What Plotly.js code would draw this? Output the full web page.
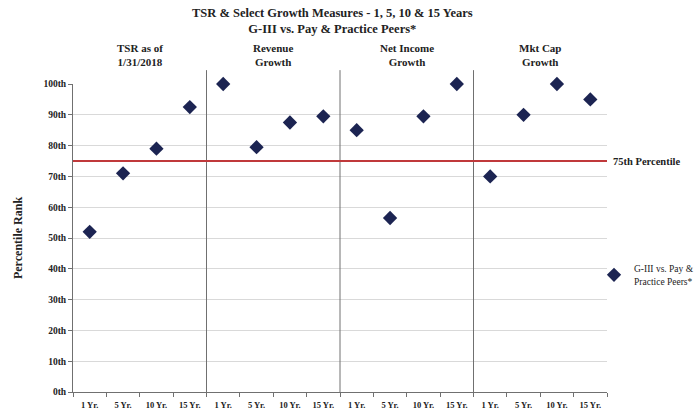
<!DOCTYPE html>
<html><head><meta charset="utf-8">
<script src="https://cdn.plot.ly/plotly-3.0.1.min.js"></script>
<style>html,body{margin:0;padding:0;background:#fff}#c{width:699px;height:413px}</style>
</head><body><div id="c"></div>
<script>
const groups = ["TSR as of<br>1/31/2018", "Revenue<br>Growth", "Net Income<br>Growth", "Mkt Cap<br>Growth"];
const periods = ["1 Yr.", "5 Yr.", "10 Yr.", "15 Yr."];
const tsrValues = [52, 71, 79, 92.5];
const revenueValues = [100, 79.5, 87.5, 89.5];
const netIncomeValues = [85, 56.5, 89.5, 100];
const mktCapValues = [70, 90, 100, 95];
const yTickVals = [0,10,20,30,40,50,60,70,80,90,100];
const yTickText = ["0th","10th","20th","30th","40th","50th","60th","70th","80th","90th","100th"];
const threshold = 75;
const seriesName = "G-III vs. Pay &<br>Practice Peers*";
const titleText = "TSR & Select Growth Measures - 1, 5, 10 & 15 Years<br>G-III vs. Pay & Practice Peers*";

const allValues = [].concat(tsrValues, revenueValues, netIncomeValues, mktCapValues);
const xs = allValues.map((v,i)=>i+1);
const xLabels = [];
groups.forEach(()=>periods.forEach(p=>xLabels.push(p)));

const font = "Liberation Serif, Times New Roman, serif";
const paperW = 699 - 73;
const plotFrac = 534/paperW;
const shapes = [];
for (let g=1; g<groups.length; g++) {
  shapes.push({type:'line', xref:'x', yref:'paper', x0:g*4+0.5, x1:g*4+0.5, y0:0, y1:1.045,
    line:{color:'#707070', width:1}});
}
shapes.push({type:'line', xref:'x', yref:'y', x0:0.5, x1:16.5, y0:threshold, y1:threshold,
  line:{color:'#c0393b', width:2}});

const annotations = groups.map((g,i)=>({
  text:'<b>'+g+'</b>', xref:'x', yref:'paper', x:i*4+2.5, y:1.045, yanchor:'bottom',
  showarrow:false, font:{family:font, size:11, color:'#222'}
}));
annotations.push({text:'<b>75th Percentile</b>', xref:'paper', yref:'y', x:(611-73)/paperW, y:threshold,
  xanchor:'left', yanchor:'middle', showarrow:false, font:{family:font, size:10.5, color:'#222'}});
annotations.push({text:'<b>'+titleText+'</b>', xref:'paper', yref:'paper', x:(332-73)/paperW, y:1.15,
  xanchor:'center', yanchor:'bottom', showarrow:false, font:{family:font, size:12.5, color:'#222'}});

Plotly.newPlot('c', [{
  type:'scatter', mode:'markers', x:xs, y:allValues, name:seriesName, cliponaxis:false,
  marker:{symbol:'diamond', size:11, color:'#1c2452'}, showlegend:true
}], {
  width:699, height:413,
  margin:{l:73, r:0, t:84, b:21},
  paper_bgcolor:'#fff', plot_bgcolor:'#fff',
  xaxis:{domain:[0, plotFrac], range:[0.5,16.5], tickmode:'array', tickvals:xs, ticktext:xLabels.map(t=>'<b>'+t+'</b>'),
    showgrid:false, zeroline:false, showline:true, linecolor:'#707070', linewidth:1,
    ticks:'', ticklabelstandoff:5, tickfont:{family:font, size:8.5, color:'#222'}, automargin:false,
    minor:{tickmode:'linear', tick0:0.5, dtick:1, ticks:'outside', ticklen:4, tickcolor:'#707070', showgrid:false}},
  yaxis:{range:[0,100], tickmode:'array', tickvals:yTickVals, ticktext:yTickText.map(t=>'<b>'+t+'</b>'),
    showgrid:true, gridcolor:'#d9d9d9', gridwidth:1, zeroline:false, showline:true, linecolor:'#707070',
    ticks:'outside', ticklen:4, tickcolor:'#707070', tickfont:{family:font, size:9.5, color:'#222'}, automargin:false,
    title:{text:'<b>Percentile Rank</b>', font:{family:font, size:12, color:'#222'}, standoff:18}},
  legend:{x:(594-73)/paperW, xanchor:'left', y:0.38, yanchor:'middle',
    font:{family:font, size:9.5, color:'#222'}, bgcolor:'rgba(0,0,0,0)', itemwidth:30},
  shapes:shapes, annotations:annotations
}, {staticPlot:true});
</script></body></html>
